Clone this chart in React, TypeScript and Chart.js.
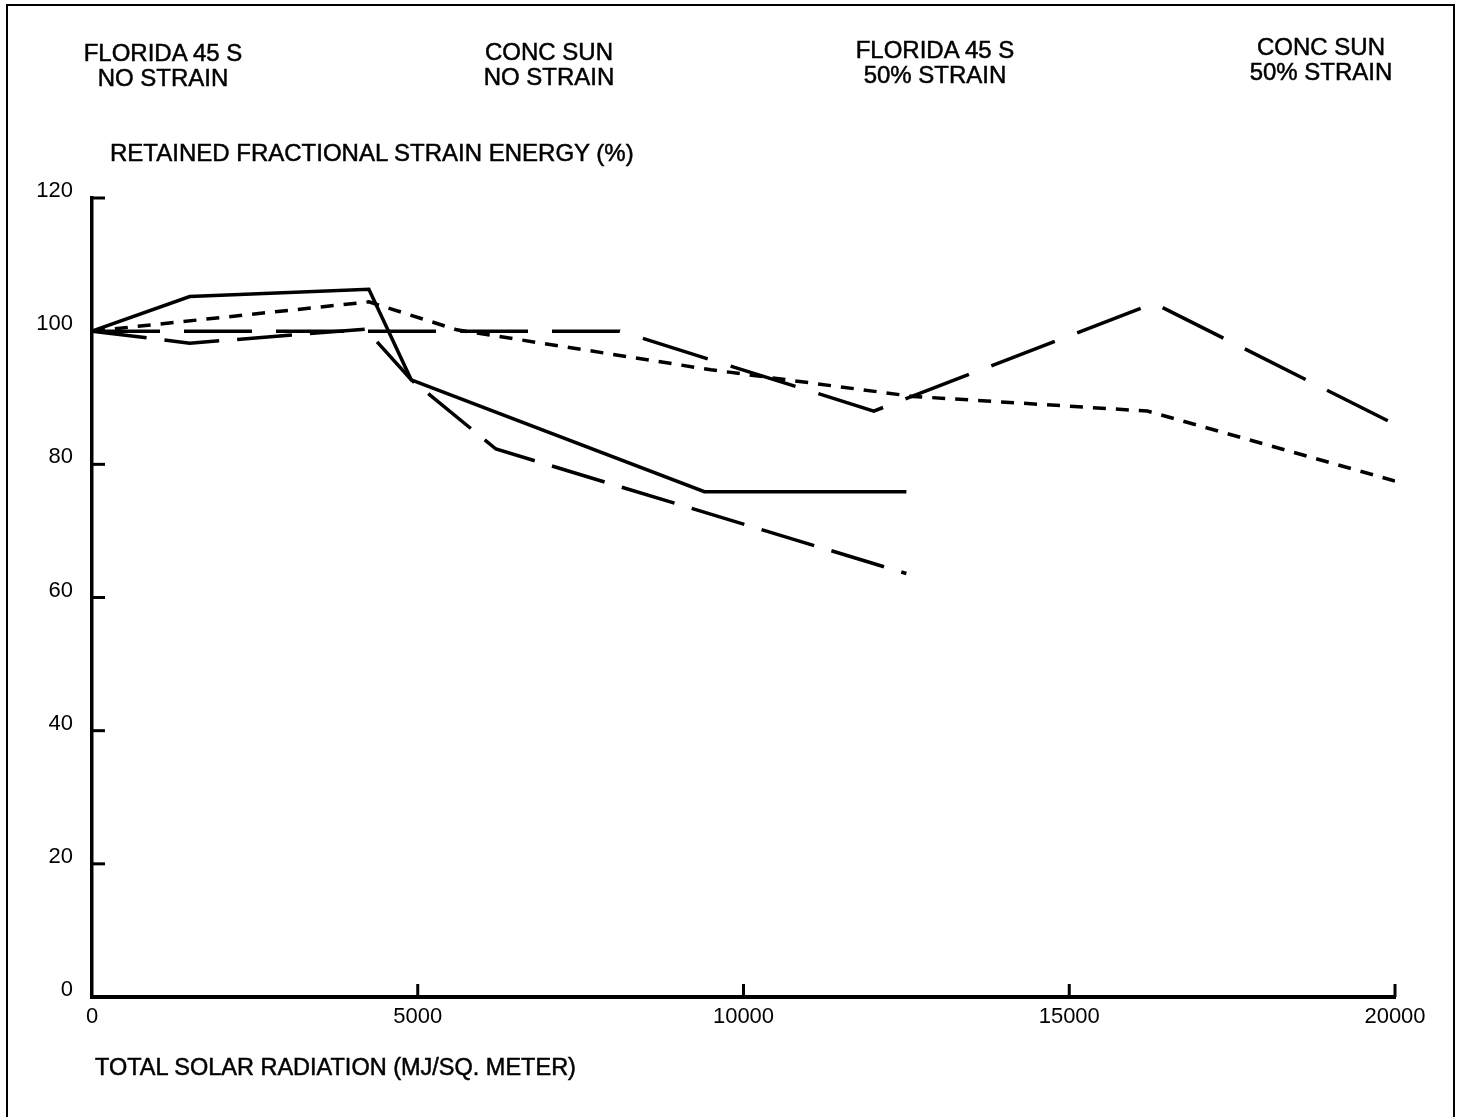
import React, { useEffect, useRef } from "react";
import { Chart, registerables } from "chart.js";

Chart.register(...registerables);

// Series data: [total solar radiation, retained %]
const floridaNoStrainX = [0, 1500, 4250, 4900, 9400, 12500];
const floridaNoStrainY = [100, 105.2, 106.3, 92.7, 75.9, 75.9];

const floridaStrainX = [0, 1500, 4200, 4900, 6200, 12500];
const floridaStrainY = [100, 98.2, 100.3, 92.7, 82.3, 63.6];

const concSunStrainX = [0, 4200, 8100, 12000, 16300, 20000];
const concSunStrainY = [100, 100, 100, 88, 104.2, 86];

const concSunNoStrainX = [0, 4250, 5600, 9500, 12600, 16200, 20000];
const concSunNoStrainY = [100, 104.4, 100.2, 94.2, 90.2, 88.0, 77.5];

const xTicks = [0, 5000, 10000, 15000, 20000];
const yTicks = [0, 20, 40, 60, 80, 100, 120];

const legendLabels = [
  ["FLORIDA 45 S", "NO STRAIN"],
  ["CONC SUN", "NO STRAIN"],
  ["FLORIDA 45 S", "50% STRAIN"],
  ["CONC SUN", "50% STRAIN"],
];
const yTitle = "RETAINED FRACTIONAL STRAIN ENERGY (%)";
const xTitle = "TOTAL SOLAR RADIATION (MJ/SQ. METER)";

const toPoints = (xs: number[], ys: number[]) => xs.map((x, i) => ({ x, y: ys[i] }));

const legendPos = [
  { cx: 163, cy: 52 },
  { cx: 549, cy: 51 },
  { cx: 935, cy: 49 },
  { cx: 1321, cy: 46 },
];

const FONT = "'Liberation Sans', Arial, Helvetica, sans-serif";

export default function App() {
  const ref = useRef<HTMLCanvasElement | null>(null);

  useEffect(() => {
    if (!ref.current) return;
    const innerTicks = {
      id: "innerTicks",
      afterDraw(chart: any) {
        const { ctx, chartArea, scales } = chart;
        ctx.save();
        ctx.strokeStyle = "#000";
        ctx.lineWidth = 3;
        yTicks.forEach((v) => {
          if (v === 0) return;
          const py = scales.y.getPixelForValue(v);
          ctx.beginPath();
          ctx.moveTo(chartArea.left, py);
          ctx.lineTo(chartArea.left + 13, py);
          ctx.stroke();
        });
        xTicks.forEach((v) => {
          if (v === 0) return;
          const px = scales.x.getPixelForValue(v);
          ctx.beginPath();
          ctx.moveTo(px, chartArea.bottom);
          ctx.lineTo(px, chartArea.bottom - 13);
          ctx.stroke();
        });
        ctx.restore();
      },
    };

    const common = {
      borderColor: "#000",
      backgroundColor: "#000",
      borderWidth: 3.5,
      pointRadius: 0,
      fill: false,
      tension: 0,
    };

    const chart = new Chart(ref.current, {
      type: "line",
      data: {
        datasets: [
          { ...common, label: "FLORIDA 45 S NO STRAIN", data: toPoints(floridaNoStrainX, floridaNoStrainY) },
          { ...common, label: "FLORIDA 45 S 50% STRAIN", data: toPoints(floridaStrainX, floridaStrainY), borderDash: [55, 18] },
          { ...common, label: "CONC SUN 50% STRAIN", data: toPoints(concSunStrainX, concSunStrainY), borderDash: [68, 24] },
          { ...common, label: "CONC SUN NO STRAIN", data: toPoints(concSunNoStrainX, concSunNoStrainY), borderDash: [13, 10] },
        ],
      },
      options: {
        animation: false,
        responsive: false,
        devicePixelRatio: 1,
        layout: { padding: { top: 198, right: 70, left: 0, bottom: 0 } },
        plugins: { legend: { display: false }, tooltip: { enabled: false } },
        scales: {
          x: {
            type: "linear",
            min: 0,
            max: 20000,
            afterBuildTicks: (scale: any) => {
              scale.ticks = xTicks.map((v) => ({ value: v }));
            },
            afterFit: (scale: any) => {
              scale.height = 1117 - 997;
            },
            grid: { display: false, drawTicks: false },
            border: { display: true, color: "#000", width: 4 },
            ticks: {
              color: "#000",
              font: { family: FONT, size: 22 },
              padding: 7,
              maxRotation: 0,
              autoSkip: false,
              callback: (v: any) => String(v),
            },
          },
          y: {
            type: "linear",
            min: 0,
            max: 120,
            afterBuildTicks: (scale: any) => {
              scale.ticks = yTicks.map((v) => ({ value: v }));
            },
            afterFit: (scale: any) => {
              scale.width = 92;
            },
            grid: { display: false, drawTicks: false },
            border: { display: true, color: "#000", width: 3.5 },
            ticks: {
              color: "#000",
              font: { family: FONT, size: 22 },
              padding: 19,
              labelOffset: -7,
              autoSkip: false,
              callback: (v: any) => String(v),
            },
          },
        },
      },
      plugins: [innerTicks],
    } as any);
    return () => chart.destroy();
  }, []);

  const textStyle: React.CSSProperties = {
    position: "absolute",
    fontFamily: FONT,
    fontSize: 24,
    color: "#000",
    lineHeight: "25px",
    whiteSpace: "nowrap",
    WebkitTextStroke: "0.5px #000",
  };

  return (
    <div style={{ position: "absolute", left: 0, top: 0, width: 1465, height: 1117, background: "#fff", overflow: "hidden" }}>
      <canvas ref={ref} width={1465} height={1117} style={{ position: "absolute", left: 0, top: 0, width: 1465, height: 1117 }} />
      <div style={{ position: "absolute", left: 6, top: 4, width: 1449, height: 1120, border: "2px solid #000", boxSizing: "border-box", pointerEvents: "none" }} />
      {legendLabels.map((lines, i) => (
        <div key={i} style={{ ...textStyle, left: legendPos[i].cx - 150, width: 300, top: legendPos[i].cy - 12.5, textAlign: "center" }}>
          {lines.map((l, j) => (
            <div key={j}>{l}</div>
          ))}
        </div>
      ))}
      <div style={{ ...textStyle, left: 110, top: 152 - 12.5 }}>{yTitle}</div>
      <div style={{ ...textStyle, left: 95, top: 1067 - 12.5, fontSize: 23.5 }}>{xTitle}</div>
    </div>
  );
}
